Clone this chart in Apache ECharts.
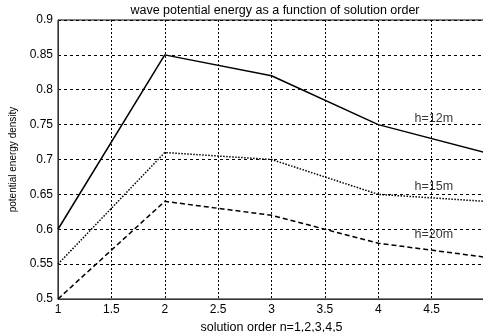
<!DOCTYPE html>
<html><head><meta charset="utf-8">
<script src="https://cdn.jsdelivr.net/npm/echarts@6/dist/echarts.min.js"></script>
<style>html,body{margin:0;padding:0;background:#fff;}#c{width:483px;height:332px;}</style>
</head><body><div id="c"></div>
<script>
const xValues = [1, 2, 3, 4, 5];
const h12 = [0.60, 0.85, 0.82, 0.75, 0.71];
const h15 = [0.55, 0.71, 0.70, 0.65, 0.64];
const h20 = [0.50, 0.64, 0.62, 0.58, 0.56];
const seriesNames = ['h=12m', 'h=15m', 'h=20m'];
const labelAnchorX = [4.52, 4.52, 4.52];
const labelAnchorY = [0.759, 0.661, 0.593];
const titleText = 'wave potential energy as a function of solution order';
const xName = 'solution order n=1,2,3,4,5';
const yName = 'potential energy density';

const FONT = 'Liberation Sans';
const chart = echarts.init(document.getElementById('c'), null, {renderer: 'canvas'});
const toPts = arr => xValues.map((x, i) => [x, arr[i]]);
const lineTypes = ['solid', [1.5, 1.5], [5, 3]];
const allSeries = [h12, h15, h20].map((arr, i) => ({
  name: seriesNames[i], type: 'line', data: toPts(arr), symbol: 'none',
  lineStyle: {color: '#000', width: 1.5, type: lineTypes[i]}, animation: false, z: 5
}));
allSeries.push({
  type: 'scatter', symbolSize: 0, animation: false, silent: true,
  data: seriesNames.map((n, i) => ({value: [labelAnchorX[i], labelAnchorY[i]], name: n})),
  label: {show: true, position: 'inside', formatter: p => p.name, color: '#000',
    fontFamily: FONT, fontSize: 12.5},
  z: 6
});
chart.setOption({
  backgroundColor: '#fff',
  animation: false,
  title: {text: titleText, left: 270, textAlign: 'center', top: -1,
    textStyle: {fontFamily: FONT, fontSize: 12.5, fontWeight: 'normal', color: '#000'}},
  grid: {left: 58, top: 20, right: -2, bottom: 33, outerBoundsMode: 'none', containLabel: false,
    show: true, borderColor: '#000', borderWidth: 1},
  xAxis: {
    type: 'value', min: 1, max: 5, interval: 0.5,
    name: xName, nameLocation: 'middle', nameGap: 17,
    nameTextStyle: {fontFamily: FONT, fontSize: 12.5, color: '#000'},
    axisLine: {show: true, lineStyle: {color: '#333', width: 1}},
    axisTick: {show: false},
    axisLabel: {fontFamily: FONT, fontSize: 12, color: '#000', margin: 5,
      formatter: v => (v >= 5 ? '' : String(parseFloat(v.toFixed(2))))},
    splitLine: {show: true, lineStyle: {color: '#000', width: 1, type: [2, 2]}}
  },
  yAxis: {
    type: 'value', min: 0.5, max: 0.9, interval: 0.05,
    name: yName, nameLocation: 'middle', nameGap: 35, nameRotate: 90,
    nameTextStyle: {fontFamily: FONT, fontSize: 10, color: '#000'},
    axisLine: {show: true, lineStyle: {color: '#333', width: 1}},
    axisTick: {show: false},
    axisLabel: {fontFamily: FONT, fontSize: 12, color: '#000', margin: 5,
      formatter: v => String(parseFloat(v.toFixed(2)))},
    splitLine: {show: true, lineStyle: {color: '#000', width: 1, type: [3, 3]}}
  },
  series: allSeries
});
</script></body></html>
